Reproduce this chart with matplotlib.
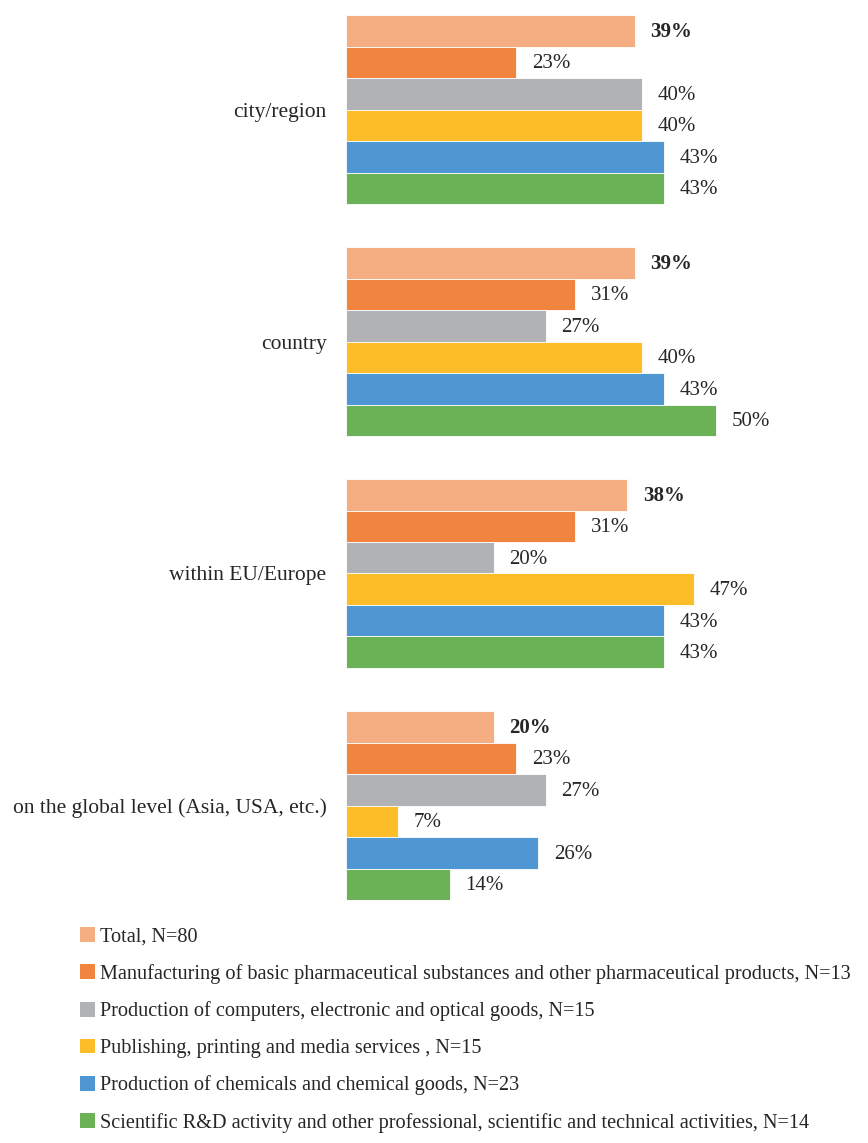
import numpy as np
import matplotlib.pyplot as plt
from matplotlib.patches import Patch

plt.rcParams['font.family'] = ['Liberation Serif', 'DejaVu Serif']

categories = ['city/region', 'country', 'within EU/Europe',
              'on the global level (Asia, USA, etc.)']
series = [
    'Total, N=80',
    'Manufacturing of basic pharmaceutical substances and other pharmaceutical products, N=13',
    'Production of computers, electronic and optical goods, N=15',
    'Publishing, printing and media services , N=15',
    'Production of chemicals and chemical goods, N=23',
    'Scientific R&D activity and other professional, scientific and technical activities, N=14',
]
colors = ['#F5AD82', '#F1843E', '#B1B2B5', '#FDBD29', '#4F97D2', '#6BB257']

# percentages per category, one list per series
total = [39, 39, 38, 20]
pharma = [23, 31, 31, 23]
computers = [40, 27, 20, 27]
publishing = [40, 40, 47, 7]
chemicals = [43, 43, 43, 26]
scientific = [43, 50, 43, 14]
values = [total, pharma, computers, publishing, chemicals, scientific]

fig = plt.figure(figsize=(8.68, 11.43), dpi=100)
ax = fig.add_axes([346 / 868, 1 - 900 / 1143, 518 / 868, 885 / 1143])

n_series = len(series)
group_step = 232 / 31.5
text_color = '#262626'

for j, (name, vals, col) in enumerate(zip(series, values, colors)):
    ys = np.arange(len(categories)) * group_step + j + 0.5
    ax.barh(ys, vals, height=1.0, color=col, edgecolor='white', linewidth=0.6)
    for y, v in zip(ys, vals):
        ax.text(v + 2.1, y + 0.05, f'{v}%', va='center', ha='left',
                fontsize=15, color=text_color,
                fontweight='bold' if j == 0 else 'normal')

centers = np.arange(len(categories)) * group_step + n_series / 2
ax.set_yticks(centers)
ax.set_yticklabels(categories, fontsize=15.5, color=text_color)
ax.tick_params(axis='y', length=0, pad=14)
ax.set_xticks([])
ax.set_xlim(0, 70)
ax.set_ylim(3 * group_step + n_series, 0)
for s in ax.spines.values():
    s.set_visible(False)

handles = [Patch(facecolor=c, edgecolor='none') for c in colors]
fig.legend(handles, series, loc='upper left', bbox_to_anchor=(80 / 868, 1 - 927 / 1143),
           frameon=False, fontsize=14.6, labelcolor=text_color,
           handlelength=0.75, handleheight=0.75, handletextpad=0.25,
           labelspacing=0.86, borderaxespad=0, borderpad=0)

fig.savefig('out.png', dpi=100)
